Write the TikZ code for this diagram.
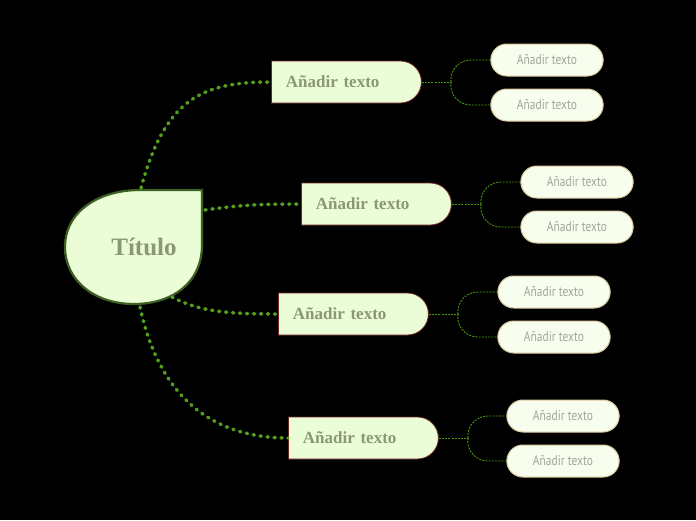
\documentclass[tikz,border=0pt]{standalone}
\usepackage{fontspec}
\setmainfont{Liberation Serif}
\newfontfamily\leaffont[FakeStretch=0.82]{PT Sans}
\usepackage{xcolor}
\usetikzlibrary{shapes.misc}

\definecolor{bgblack}{HTML}{000000}
\definecolor{paleGreen}{HTML}{EAFDD6}
\definecolor{leafFill}{HTML}{F7FEEE}
\definecolor{titleGray}{HTML}{8B9775}
\definecolor{leafGray}{HTML}{A3A69A}
\definecolor{darkGreen}{HTML}{3D5F22}
\definecolor{branchRed}{HTML}{6E2424}
\definecolor{leafBorder}{HTML}{D9C79A}
\definecolor{dotGreen}{HTML}{52A01E}
\definecolor{thinGreen}{HTML}{4A9A10}

\begin{document}
\begin{tikzpicture}[x=1pt,y=-1pt,
    mainbox/.style={rounded rectangle, rounded rectangle left arc=none,
      draw=branchRed, line width=0.8pt, fill=paleGreen, text=titleGray,
      minimum width=162pt, minimum height=42pt, inner xsep=6pt,
      text width=120pt, align=left,
      font=\fontsize{17}{20}\selectfont\bfseries, anchor=west},
    leafbox/.style={rounded rectangle, draw=leafBorder, line width=1pt,
      fill=leafFill, text=leafGray, minimum width=119pt, minimum height=32pt,
      font=\leaffont\fontsize{14}{16}\selectfont},
    dotline/.style={dotGreen, line width=3.5pt, line cap=round,
      dash pattern=on 1.2pt off 5.8pt},
    leafline/.style={thinGreen, line width=0.9pt, dash pattern=on 2pt off 1.2pt}]
  % Background
  \fill[bgblack] (0,0) rectangle (696,520);

  % Central drop shape
  \draw[darkGreen, line width=2.2pt, fill=paleGreen]
    (202,190) -- (202,245)
    .. controls (202,283) and (172,304) .. (134,304)
    .. controls (94,304) and (65,280) .. (65,247)
    .. controls (65,212) and (98,190) .. (140,190) -- cycle;
  \node[text=titleGray, font=\fontsize{25}{28}\selectfont\bfseries] (title) at (144,247) {Título};

  % Start points on the drop
  \coordinate (c1) at (141,188);
  \coordinate (c2) at (205,210);
  \coordinate (c3) at (172,297);
  \coordinate (c4) at (140,307);

  % Main branches
  \node[mainbox] (m1) at (271,82) {Añadir texto};
  \node[mainbox] (m2) at (301,204) {Añadir texto};
  \node[mainbox] (m3) at (278,314) {Añadir texto};
  \node[mainbox] (m4) at (288,438) {Añadir texto};

  % Leaves
  \node[leafbox] (l1a) at (547,60) {Añadir texto};
  \node[leafbox] (l1b) at (547,105) {Añadir texto};
  \node[leafbox] (l2a) at (577,182) {Añadir texto};
  \node[leafbox] (l2b) at (577,227) {Añadir texto};
  \node[leafbox] (l3a) at (554,292) {Añadir texto};
  \node[leafbox] (l3b) at (554,337) {Añadir texto};
  \node[leafbox] (l4a) at (563,416) {Añadir texto};
  \node[leafbox] (l4b) at (563,461) {Añadir texto};

  % Dotted links from the title
  \draw[dotline] (c1) .. controls (165,100) and (200,82) .. (m1.west);
  \draw[dotline] (c2) .. controls (240,205) and (260,204) .. (m2.west);
  \draw[dotline] (c3) .. controls (200,312) and (230,314) .. (m3.west);
  \draw[dotline] (c4) .. controls (160,400) and (215,438) .. (m4.west);

  % Thin links to the leaves
  \foreach \m in {1,2,3,4} {
    \draw[leafline] (m\m.east) -- ++(29,0) coordinate (b\m);
    \draw[leafline, rounded corners=20pt] (b\m) |- (l\m a.west);
    \draw[leafline, rounded corners=20pt] (b\m) |- (l\m b.west);
  }
\end{tikzpicture}
\end{document}
